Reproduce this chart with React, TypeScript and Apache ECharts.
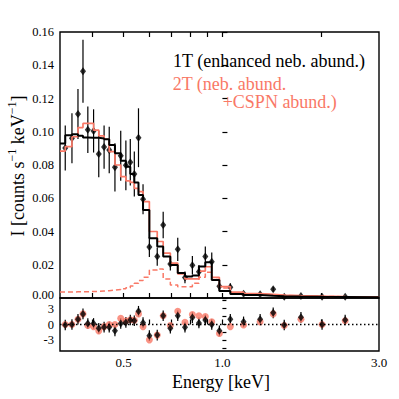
import React, { useEffect, useRef } from "react";
import * as echarts from "echarts";

// ---------- data ----------
const energyKeV = [0.332, 0.348, 0.363, 0.376, 0.389, 0.405, 0.42, 0.436, 0.452, 0.4705, 0.49, 0.508, 0.524, 0.539, 0.555, 0.573, 0.599, 0.633, 0.66, 0.694, 0.731, 0.769, 0.81, 0.848, 0.887, 0.928, 0.979, 1.057, 1.16, 1.303, 1.428, 1.543, 1.735, 2.012, 2.366];
const rate = [0.0902, 0.0961, 0.1107, 0.1364, 0.1012, 0.1005, 0.0866, 0.0908, 0.089, 0.0786, 0.0856, 0.0798, 0.0816, 0.0746, 0.0964, 0.0594, 0.0307, 0.0249, 0.0439, 0.0205, 0.0293, 0.0124, 0.0197, 0.0158, 0.025, 0.0218, 0.007, 0.0064, 0.0026, 0.0022, 0.0052, 0.0008, 0.0012, 0.0008, 0.0008];
const rateErr = [0.0135, 0.015, 0.015, 0.019, 0.014, 0.013, 0.014, 0.013, 0.014, 0.0145, 0.015, 0.015, 0.014, 0.0135, 0.0177, 0.009, 0.006, 0.0055, 0.008, 0.004, 0.007, 0.0035, 0.0055, 0.004, 0.006, 0.0055, 0.003, 0.0025, 0.001, 0.001, 0.0015, 0.0005, 0.0008, 0.0005, 0.0005];
// model values of the bin that ends at each energy
const model1T = [0.093, 0.0979, 0.0985, 0.0976, 0.0966, 0.0964, 0.0964, 0.096, 0.0955, 0.092, 0.087, 0.0826, 0.079, 0.0746, 0.0694, 0.062, 0.053, 0.036, 0.031, 0.025, 0.0198, 0.015, 0.013, 0.0135, 0.019, 0.0215, 0.0108, 0.0042, 0.0024, 0.0018, 0.0014, 0.0011, 0.0009, 0.0007, 0.0006];
const model1TTail = 0.0005;
const model2T = [0.0884, 0.091, 0.097, 0.1025, 0.105, 0.105, 0.101, 0.0975, 0.0955, 0.088, 0.08, 0.073, 0.0705, 0.0695, 0.066, 0.064, 0.058, 0.04, 0.034, 0.027, 0.021, 0.0145, 0.0115, 0.0115, 0.0162, 0.0188, 0.0124, 0.0069, 0.0035, 0.0026, 0.0022, 0.0018, 0.0014, 0.0011, 0.0009];
const model2TTail = 0.0007;
const model2TComp = [0.0036, 0.0036, 0.0037, 0.0037, 0.0038, 0.0039, 0.004, 0.0042, 0.0044, 0.0047, 0.0051, 0.0056, 0.0062, 0.0072, 0.0088, 0.0105, 0.0125, 0.0168, 0.0175, 0.0115, 0.0078, 0.0068, 0.0068, 0.0088, 0.0125, 0.0155, 0.0112, 0.006, 0.0032, 0.0024, 0.002, 0.0016, 0.0013, 0.001, 0.0008];
const model2TCompTail = 0.0006;
const resid1T = [-0.1, 0, 1.0, 2.0, 0.2, 0.2, -0.7, -0.5, -0.5, -1.2, 0.2, 0.4, 0.85, 0.7, 2.5, 0.35, -2.1, -2.0, 1.65, -0.7, 1.65, -0.5, 1.3, 0.3, 0.85, 0, -1.2, 1.0, 0.5, 1.0, 2.2, -0.1, 1.35, 0, 0.85];
const resid2T = [0, 0, 1.0, 2.0, -0.2, -0.4, -1.2, -0.4, 0, 0, 1.15, 0.65, 0.9, 0.8, 2.0, -0.4, -2.9, -2.0, 1.65, -0.2, 2.5, 0.4, 1.9, 1.65, 1.5, 0.5, -1.7, -0.4, -0.1, 0.5, 2.0, -0.2, 1.0, 0, 0.7];

const E_MIN = 0.32;
const E_MAX = 3.0;
const xTickEnergies = [0.4, 0.5, 0.6, 0.7, 0.8, 0.9, 1.0, 2.0];
const xLabelEnergies = [0.5, 1.0, 3.0];
const residTicks = [-4.5, -3, -1.5, 0, 1.5, 3, 4.5];
const residLabels = [-3, 0, 3];

const RED = "#f97866";
const FONT = "'Liberation Serif', 'Times New Roman', serif";
const lg = Math.log10;

function stepData(model: number[], tail: number) {
  return [[lg(E_MIN), model[0]], ...energyKeV.map((e, i) => [lg(e), model[i]]), [lg(E_MAX), tail]];
}

function errRender(color: string, width: number) {
  return (params: any, api: any) => {
    const x = api.value(0);
    const p1 = api.coord([x, api.value(1)]);
    const p2 = api.coord([x, api.value(2)]);
    return {
      type: "line",
      shape: { x1: p1[0], y1: p1[1], x2: p2[0], y2: p2[1] },
      style: { stroke: color, lineWidth: width },
    };
  };
}

export default function App() {
  const ref = useRef<HTMLDivElement>(null);
  useEffect(() => {
    if (!ref.current) return;
    const chart = echarts.init(ref.current, undefined, { renderer: "svg" });
    const xMin = lg(E_MIN);
    const xMax = lg(E_MAX);
    const tickCommon = {
      show: true,
      inside: true,
      length: 5,
      customValues: xTickEnergies.map(lg),
      lineStyle: { color: "#000", width: 1.2 },
    };
    const labelStyle = { color: "#000", fontFamily: FONT, fontSize: 12.5 };
    const option: any = {
      animation: false,
      textStyle: { fontFamily: FONT },
      grid: [
        { left: 60, top: 32, width: 319, height: 266, show: true, borderColor: "#000", borderWidth: 1.4, backgroundColor: "transparent" },
        { left: 60, top: 298, width: 319, height: 53, show: true, borderColor: "#000", borderWidth: 1.4, backgroundColor: "transparent" },
      ],
      xAxis: [
        { gridIndex: 0, type: "value", min: xMin, max: xMax, position: "bottom", axisLine: { show: false }, axisTick: tickCommon, axisLabel: { show: false }, splitLine: { show: false } },
        { gridIndex: 0, type: "value", min: xMin, max: xMax, position: "top", axisLine: { show: false }, axisTick: tickCommon, axisLabel: { show: false }, splitLine: { show: false } },
        {
          gridIndex: 1, type: "value", min: xMin, max: xMax, position: "bottom", axisLine: { show: false }, axisTick: tickCommon,
          axisLabel: { ...labelStyle, fontSize: 13, margin: 5, customValues: xLabelEnergies.map(lg), formatter: (v: number) => Math.pow(10, v).toFixed(1) },
          splitLine: { show: false },
        },
      ],
      yAxis: [
        {
          gridIndex: 0, type: "value", min: 0, max: 0.16, interval: 0.02, axisLine: { show: false },
          axisTick: { show: true, inside: true, length: 5, lineStyle: { color: "#000", width: 1.2 } },
          axisLabel: {
            ...labelStyle, margin: 6, lineHeight: 12,
            formatter: (v: number) => (Math.abs(v) < 1e-9 ? "{z|0.00}" : v.toFixed(2)),
            rich: { z: { fontFamily: FONT, fontSize: 12.5, color: "#000", lineHeight: 12, padding: [0, 0, 6, 0] } },
          },
          splitLine: { show: false },
        },
        {
          gridIndex: 1, type: "value", min: -5, max: 5, axisLine: { show: false },
          axisTick: { show: true, inside: true, length: 4, customValues: residTicks, lineStyle: { color: "#000", width: 1.2 } },
          axisLabel: { ...labelStyle, margin: 6, lineHeight: 12, customValues: residLabels, formatter: (v: number) => String(v) },
          splitLine: { show: false },
        },
      ],
      series: [
        { type: "line", xAxisIndex: 0, yAxisIndex: 0, step: "start", showSymbol: false, data: stepData(model2TComp, model2TCompTail), lineStyle: { color: RED, width: 1.5, type: [5, 3] }, clip: true },
        { type: "line", xAxisIndex: 0, yAxisIndex: 0, step: "start", showSymbol: false, data: stepData(model2T, model2TTail), lineStyle: { color: RED, width: 1.7 }, clip: true },
        { type: "line", xAxisIndex: 0, yAxisIndex: 0, step: "start", showSymbol: false, data: stepData(model1T, model1TTail), lineStyle: { color: "#000", width: 2 }, clip: true },
        { type: "custom", xAxisIndex: 0, yAxisIndex: 0, renderItem: errRender("#000", 1.2), data: energyKeV.map((e, i) => [lg(e), rate[i] - rateErr[i], rate[i] + rateErr[i]]) },
        { type: "scatter", xAxisIndex: 0, yAxisIndex: 0, symbol: "diamond", symbolSize: [6, 8], itemStyle: { color: "#000" }, data: energyKeV.map((e, i) => [lg(e), rate[i]]) },
        { type: "line", xAxisIndex: 2, yAxisIndex: 1, showSymbol: false, data: [[xMin, 0], [xMax, 0]], lineStyle: { color: "#000", width: 1.5, type: [1.5, 2.5] } },
        { type: "scatter", xAxisIndex: 2, yAxisIndex: 1, symbol: "circle", symbolSize: 7, itemStyle: { color: RED }, data: energyKeV.map((e, i) => [lg(e), resid2T[i]]) },
        { type: "custom", xAxisIndex: 2, yAxisIndex: 1, renderItem: errRender("#000", 1.2), data: energyKeV.map((e, i) => [lg(e), resid1T[i] - 1, resid1T[i] + 1]) },
        { type: "scatter", xAxisIndex: 2, yAxisIndex: 1, symbol: "diamond", symbolSize: [6, 8], itemStyle: { color: "#000" }, data: energyKeV.map((e, i) => [lg(e), resid1T[i]]) },
      ],
      graphic: [
        { type: "text", x: 173, y: 61, style: { text: "1T (enhanced neb. abund.)", fill: "#000", fontSize: 18, fontFamily: FONT, align: "left", verticalAlign: "middle" } },
        { type: "text", x: 172.7, y: 83.5, style: { text: "2T (neb. abund.", fill: RED, fontSize: 18, fontFamily: FONT, align: "left", verticalAlign: "middle", lineHeight: 16 } },
        { type: "text", x: 222.7, y: 102, style: { text: "+CSPN abund.)", fill: RED, fontSize: 18, fontFamily: FONT, align: "left", verticalAlign: "middle", lineHeight: 16 } },
        { type: "text", x: 221, y: 382, style: { text: "Energy [keV]", fill: "#000", fontSize: 18, fontFamily: FONT, align: "center", verticalAlign: "middle" } },
        {
          type: "text", x: 18, y: 166, rotation: Math.PI / 2,
          style: {
            text: "I [counts s{sup|−1} keV{sup|−1}]",
            fill: "#000", fontSize: 18, fontFamily: FONT, lineHeight: 24, align: "center", verticalAlign: "middle",
            rich: { sup: { fontSize: 12, fontFamily: FONT, fill: "#000", lineHeight: 12, verticalAlign: "top" } },
          },
        },
      ],
    };
    chart.setOption(option);
    return () => chart.dispose();
  }, []);
  return <div ref={ref} style={{ position: "fixed", left: 0, top: 0, width: 399, height: 399, background: "#fff" }} />;
}
